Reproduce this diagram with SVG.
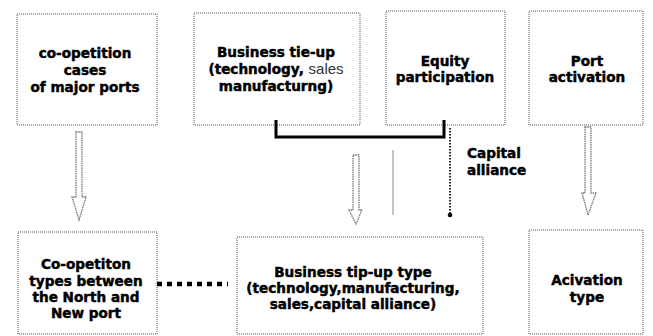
<svg xmlns="http://www.w3.org/2000/svg" width="653" height="336" viewBox="0 0 653 336">
  <style>
    .box { fill: #ffffff; stroke: #8a8a8a; stroke-width: 1.4; stroke-dasharray: 1 1; }
    .lbl { font-family: "DejaVu Sans", Verdana, sans-serif; font-weight: bold; font-size: 13.6px; fill: #000; stroke: #000; stroke-width: 0.45; text-anchor: middle; }
    .thin { font-weight: normal; font-family: "Liberation Sans", Arial, sans-serif; font-size: 15px; fill: #333; stroke: none; }
    .hollow { fill: #ffffff; stroke: #777; stroke-width: 1.3; stroke-dasharray: 1.5 0.8; }
  </style>
  <rect width="653" height="336" fill="#ffffff"/>

  <!-- top row -->
  <g id="cases">
    <rect class="box" x="17" y="14" width="140" height="111"/>
    <text class="lbl" x="85" y="58">co-opetition</text>
    <text class="lbl" x="85" y="75">cases</text>
    <text class="lbl" x="85" y="92">of major ports</text>
  </g>
  <g id="tieup">
    <rect class="box" x="194" y="13" width="166" height="112"/>
    <text class="lbl" x="276" y="57">Business tie-up</text>
    <text class="lbl" x="276" y="74">(technology, <tspan class="thin">sales</tspan></text>
    <text class="lbl" x="276" y="91">manufacturng)</text>
  </g>
  <g id="equity">
    <rect class="box" x="386" y="11" width="119" height="114"/>
    <text class="lbl" x="445" y="66">Equity</text>
    <text class="lbl" x="445" y="82">participation</text>
  </g>
  <g id="activation">
    <rect class="box" x="529" y="11" width="114" height="114"/>
    <text class="lbl" x="587" y="66">Port</text>
    <text class="lbl" x="587" y="82">activation</text>
  </g>

  <!-- bottom row -->
  <g id="types">
    <rect class="box" x="18" y="232" width="139" height="102"/>
    <text class="lbl" x="86" y="269">Co-opetiton</text>
    <text class="lbl" x="86" y="286">types between</text>
    <text class="lbl" x="86" y="302">the North and</text>
    <text class="lbl" x="86" y="318">New port</text>
  </g>
  <g id="tipup-type">
    <rect class="box" x="237" y="237" width="246" height="97"/>
    <text class="lbl" x="353" y="277">Business tip-up type</text>
    <text class="lbl" x="353" y="293">(technology,manufacturing,</text>
    <text class="lbl" x="353" y="309">sales,capital alliance)</text>
  </g>
  <g id="activation-type">
    <rect class="box" x="529" y="230" width="114" height="104"/>
    <text class="lbl" x="587" y="285">Acivation</text>
    <text class="lbl" x="587" y="302">type</text>
  </g>

  <!-- connectors -->
  <g id="connectors">
    <!-- hollow block arrows -->
    <polygon class="hollow" points="76,132 82,132 82,197 86,197 79,220 72,197 76,197"/>
    <polygon class="hollow" points="353,155 359,155 359,210 362,210 356,224 349,210 353,210"/>
    <polygon class="hollow" points="585,127 591,127 591,193 596,193 588,215 582,193 585,193"/>
    <!-- bracket joining tie-up and equity -->
    <polyline points="276,120 276,137 444,137 444,120" fill="none" stroke="#000" stroke-width="3"/>
    <line x1="393" y1="150" x2="393" y2="215" stroke="#888" stroke-width="1"/>
    <!-- capital alliance link -->
    <line x1="450" y1="128" x2="450" y2="213" stroke="#222" stroke-width="2" stroke-dasharray="1.5 1.5"/>
    <circle cx="450" cy="215" r="2.3" fill="#000"/>
    <text class="lbl" x="467" y="158" style="text-anchor:start">Capital</text>
    <text class="lbl" x="467" y="175" style="text-anchor:start">alliance</text>
    <!-- dashed link between bottom boxes -->
    <line x1="157" y1="284" x2="228" y2="284" stroke="#000" stroke-width="4.5" stroke-dasharray="5 5"/>
  </g>
</svg>
